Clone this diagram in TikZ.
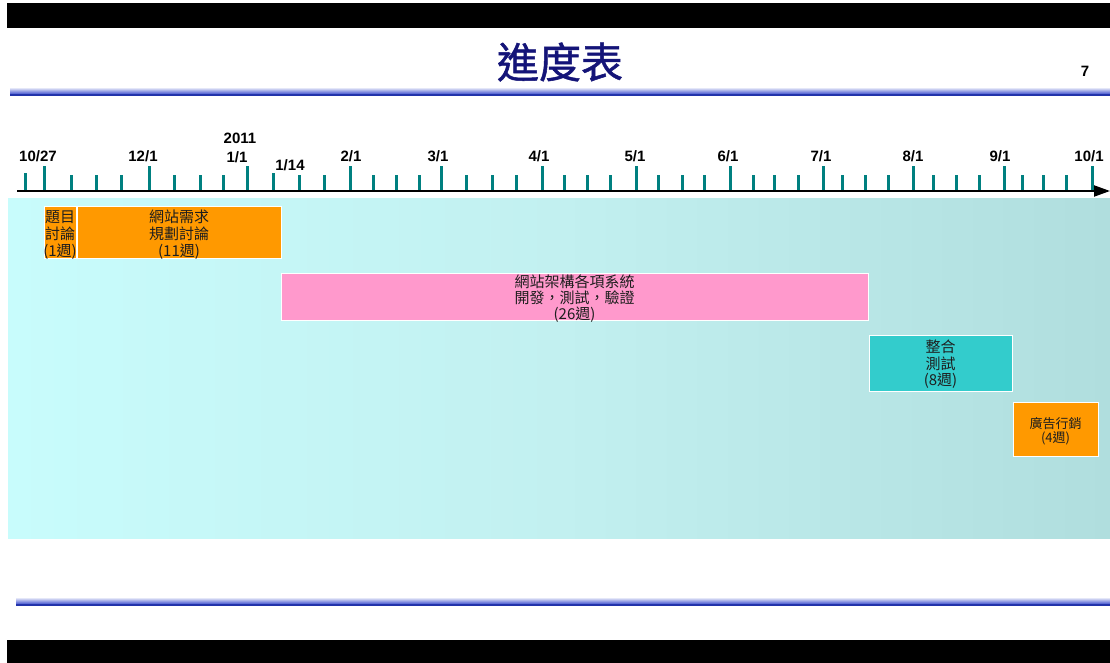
\documentclass[tikz,border=0pt]{standalone}
\usepackage{fontspec}
\setmainfont{Liberation Sans}
\newfontfamily\cjk{Noto Sans CJK TC}
\newfontfamily\cjktitle[FakeBold=1.2]{Noto Sans CJK TC}
\usetikzlibrary{arrows.meta}
\definecolor{tickcol}{RGB}{0,128,128}
\definecolor{navytitle}{RGB}{20,20,120}
\definecolor{blueline}{RGB}{40,60,200}
\definecolor{panelL}{RGB}{200,252,252}
\definecolor{panelM}{RGB}{194,240,240}
\definecolor{panelR}{RGB}{176,222,222}
\definecolor{orangebox}{RGB}{255,153,0}
\definecolor{pinkbox}{RGB}{255,153,204}
\definecolor{tealbox}{RGB}{51,204,204}
\definecolor{boxtext}{RGB}{30,30,30}
\tikzset{
  majortick/.style={draw=tickcol, line width=3pt},
  minortick/.style={draw=tickcol, line width=3pt},
  datelabel/.style={font=\bfseries\fontsize{15}{15}\selectfont, anchor=base, inner sep=0pt},
  taskbox/.style={draw=white, line width=0.8pt, inner sep=0pt},
  tasktext/.style={inner sep=0pt, align=center, text=boxtext,
    font=\cjk\fontsize{15}{17}\selectfont},
}
\begin{document}
\begin{tikzpicture}[x=1pt,y=-1pt]
\useasboundingbox (0,0) rectangle (1110,663);
\fill[white] (0,0) rectangle (1110,663);
% black bars
\fill[black] (7,3) rectangle (1110,28);
\fill[black] (7,640) rectangle (1110,663);
% blue gradient lines
\shade[top color=white, bottom color=blueline] (10,87) rectangle (1110,95);
\fill[blueline!85!black] (10,94) rectangle (1110,96);
\shade[top color=white, bottom color=blueline] (16,597) rectangle (1110,605);
\fill[blueline!85!black] (16,604) rectangle (1110,606);
% title and page number
\node[text=navytitle, font=\cjktitle\fontsize{42}{42}\selectfont, inner sep=0pt] (title) at (560,62) {進度表};
\node[font=\bfseries\fontsize{15}{15}\selectfont, anchor=base, inner sep=0pt] (pageno) at (1085,77) {7};
% panel
\shade[left color=panelL, right color=panelR, middle color=panelM] (8,198) rectangle (1110,538);
% axis
\draw[line width=2pt, -{Triangle[length=16pt,width=11pt]}] (17,191) -- (1110,191);
% ticks
\foreach \x in {71,96,121,174,200,223,299,324,373,396,419,466,492,516,564,587,610,658,682,704,753,774,798,842,865,888,933,956,979,1022,1043,1066}
  \draw[minortick] (\x,190) -- (\x,175);
\foreach \x in {25,273}
  \draw[minortick] (\x,190) -- (\x,173);
\foreach \x in {44,149,247,350,441,542,636,730,823,913,1004,1092}
  \draw[majortick] (\x,190) -- (\x,166);
% date labels
\node[datelabel] (d1027) at (38,162) {10/27};
\node[datelabel] (d1201) at (143,162) {12/1};
\node[datelabel] (d2011) at (240,144) {2011};
\node[datelabel] (d0101) at (237,163) {1/1};
\node[datelabel] (d0114) at (290,171) {1/14};
\node[datelabel] (d0201) at (351,162) {2/1};
\node[datelabel] (d0301) at (438,162) {3/1};
\node[datelabel] (d0401) at (539,162) {4/1};
\node[datelabel] (d0501) at (635,162) {5/1};
\node[datelabel] (d0601) at (728,162) {6/1};
\node[datelabel] (d0701) at (821,162) {7/1};
\node[datelabel] (d0801) at (913,162) {8/1};
\node[datelabel] (d0901) at (1000,162) {9/1};
\node[datelabel] (d1001) at (1089,162) {10/1};
% task boxes
\node[taskbox, fill=orangebox, minimum width=32pt, minimum height=52pt] (t1) at (60,232) {};
\node[taskbox, fill=orangebox, minimum width=204pt, minimum height=52pt] (t2) at (179,232) {};
\node[taskbox, fill=pinkbox, minimum width=587pt, minimum height=47pt] (t3) at (574.5,296.5) {};
\node[taskbox, fill=tealbox, minimum width=143pt, minimum height=56pt] (t4) at (940.5,363) {};
\node[taskbox, fill=orangebox, minimum width=85pt, minimum height=54pt] (t5) at (1055.5,429) {};
% task texts
\node[tasktext] (t1txt) at (60,235) {題目\\討論\\(1週)};
\node[tasktext] (t2txt) at (179,235) {網站需求\\規劃討論\\(11週)};
\node[tasktext, font=\cjk\fontsize{15}{16}\selectfont] (t3txt) at (574.5,298.5) {網站架構各項系統\\開發，測試，驗證\\(26週)};
\node[tasktext, font=\cjk\fontsize{15}{16.5}\selectfont] (t4txt) at (940.5,364.5) {整合\\測試\\(8週)};
\node[tasktext, font=\cjk\fontsize{13}{14.5}\selectfont] (t5txt) at (1055.5,431.5) {廣告行銷\\(4週)};
\end{tikzpicture}
\end{document}
